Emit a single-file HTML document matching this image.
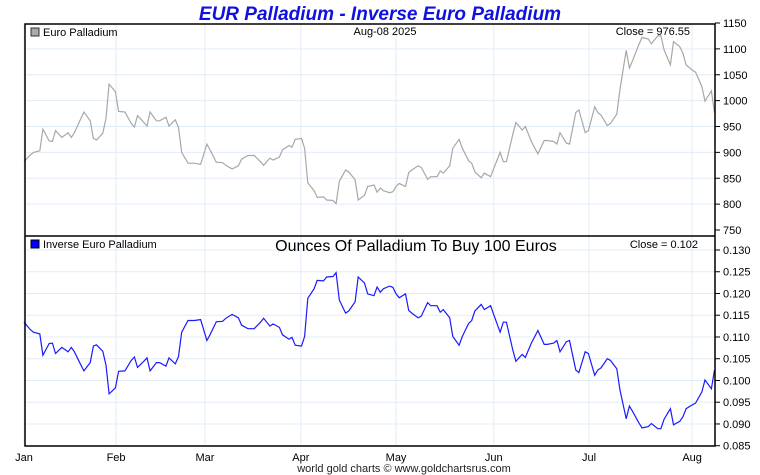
<!DOCTYPE html>
<html><head><meta charset="utf-8"><style>
body{margin:0;background:#fff;width:760px;height:475px;overflow:hidden}
svg{display:block;font-family:"Liberation Sans",sans-serif}
</style></head><body>
<svg id="c" width="760" height="475">
<text x="380" y="20" text-anchor="middle" font-size="19" font-weight="bold" font-style="italic" fill="#1010e0">EUR Palladium - Inverse Euro Palladium</text>
<g id="grid"></g>
<g id="marks"></g>
<rect x="25" y="24" width="690" height="422" fill="none" stroke="#000" stroke-width="1.5"/>
<line x1="25" y1="236" x2="715" y2="236" stroke="#000" stroke-width="1.5"/>
<rect x="31" y="28" width="8" height="8" fill="#aaa" stroke="#333" stroke-width="1"/>
<text x="43" y="36" font-size="11">Euro Palladium</text>
<text x="385" y="35" font-size="11" text-anchor="middle">Aug-08  2025</text>
<text x="690" y="35" font-size="11" text-anchor="end">Close = 976.55</text>
<rect x="31" y="240" width="8" height="8" fill="#0000ff" stroke="#000" stroke-width="1"/>
<text x="43" y="248" font-size="11">Inverse Euro Palladium</text>
<text x="416" y="251" font-size="16" text-anchor="middle">Ounces Of Palladium To Buy 100 Euros</text>
<text x="698" y="248" font-size="11" text-anchor="end">Close = 0.102</text>
<text x="404" y="472" font-size="11" text-anchor="middle" fill="#222">world gold charts © www.goldchartsrus.com</text>
</svg>
<script>
const days=[0,2,3,5,6,8,9,10,12,14,15,16,18,19,21,22,23,25,26,27,29,30,32,34,35,36,38,39,40,42,43,45,46,48,49,50,52,54,56,58,59,61,63,64,66,68,69,71,73,75,76,78,79,81,82,84,85,86,88,89,90,92,93,95,96,98,99,100,102,103,105,106,108,109,111,112,113,114,116,117,118,119,121,122,123,125,126,128,129,131,132,133,135,136,138,139,141,142,143,145,146,148,149,151,152,153,155,156,158,159,161,162,163,165,166,168,169,170,172,173,175,176,178,179,181,182,183,185,186,188,189,191,192,193,195,196,198,199,201,202,203,205,206,208,209,210,212,213,215,216,218,219];
const prices=[882,895,900,903,945,922,921,942,929,938,929,938,965,978,961,927,924,937,966,1032,1017,979,978,956,949,971,958,951,978,961,961,968,951,963,948,900,879,879,877,916,905,881,880,875,868,874,887,894,894,882,875,889,885,891,905,913,910,925,927,908,841,826,813,814,808,807,801,844,866,862,847,808,817,834,837,823,831,826,822,824,834,840,834,861,866,874,871,848,853,853,864,860,874,908,925,908,884,879,862,851,860,853,869,900,882,882,934,958,943,950,920,908,897,923,923,921,916,938,918,916,977,982,938,942,988,977,972,952,956,974,1021,1097,1063,1077,1108,1122,1119,1110,1125,1125,1098,1069,1114,1104,1091,1069,1059,1055,1027,999,1019,976.55];
const inverse=[.1134,.1117,.1111,.1107,.1058,.1085,.1086,.1062,.1076,.1066,.1076,.1066,.1036,.1022,.1041,.1079,.1082,.1067,.1035,.0969,.0983,.1021,.1022,.1046,.1054,.1030,.1044,.1052,.1022,.1041,.1041,.1033,.1052,.1038,.1055,.1111,.1138,.1138,.1140,.1092,.1105,.1135,.1136,.1143,.1152,.1144,.1127,.1119,.1119,.1134,.1143,.1125,.1130,.1122,.1105,.1095,.1099,.1081,.1079,.1101,.1189,.1211,.1230,.1229,.1238,.1239,.1248,.1185,.1155,.1160,.1181,.1238,.1224,.1199,.1195,.1215,.1203,.1211,.1217,.1214,.1199,.1190,.1199,.1161,.1155,.1144,.1148,.1179,.1172,.1172,.1157,.1163,.1144,.1101,.1081,.1101,.1131,.1138,.1160,.1175,.1163,.1172,.1151,.1111,.1134,.1134,.1071,.1044,.1060,.1053,.1087,.1101,.1115,.1083,.1083,.1086,.1092,.1066,.1089,.1092,.1024,.1018,.1066,.1062,.1012,.1024,.1029,.1050,.1046,.1027,.0979,.0912,.0941,.0929,.0903,.0891,.0894,.0901,.0889,.0889,.0911,.0935,.0898,.0906,.0917,.0935,.0944,.0948,.0974,.1001,.0981,.1024];
const monthLabels=["Jan","Feb","Mar","Apr","May","Jun","Jul","Aug"];
const monthDays=[0,29.2,57.4,87.8,118,149,179.2,211.9];
const topTicks=[750,800,850,900,950,1000,1050,1100,1150];
const botTicks=[0.085,0.090,0.095,0.100,0.105,0.110,0.115,0.120,0.125,0.130];

const NS="http://www.w3.org/2000/svg";
const X=d=>24+d*3.153;
const YT=v=>23+(1150-v)*(207/400);
const YB=v=>250+(0.130-v)*(195.7/0.045);
function mk(t,a,p){const e=document.createElementNS(NS,t);for(const k in a)e.setAttribute(k,a[k]);p.appendChild(e);return e;}
const grid=document.getElementById('grid'),marks=document.getElementById('marks');
monthDays.forEach((d,i)=>{
  const l=mk('line',{x1:X(d),x2:X(d),y1:24,y2:446,stroke:'#e2ecf6','stroke-width':1},grid);
  
  
  const t=mk('text',{x:X(d),y:461,'font-size':11,'text-anchor':'middle'},grid);
  t.textContent=monthLabels[i];
  
  
});
topTicks.forEach(v=>{
  const y=YT(v);
  if(v>750&&v<1150){const l=mk('line',{x1:25,x2:715,y1:y,y2:y,stroke:'#e2ecf6','stroke-width':1},grid);
  
  }
  const k=mk('line',{x1:715,x2:720,y1:y,y2:y,stroke:'#000'},grid);
  
  
  const t=mk('text',{x:723,y:y+4,'font-size':11},grid);
  t.textContent=v;
  
  
});
botTicks.forEach(v=>{
  const y=YB(v);
  if(v>0.086){const l=mk('line',{x1:25,x2:715,y1:y,y2:y,stroke:'#e2ecf6','stroke-width':1},grid);
  
  }
  const k=mk('line',{x1:715,x2:720,y1:y,y2:y,stroke:'#000'},grid);
  
  
  const t=mk('text',{x:723,y:y+4,'font-size':11},grid);
  t.textContent=v.toFixed(3);
  
  
});
const p1=mk('polyline',{points:days.map((d,i)=>X(d).toFixed(1)+','+YT(prices[i]).toFixed(1)).join(' '),fill:'none',stroke:'#a8a8a8','stroke-width':1.2},marks);


const p2=mk('polyline',{points:days.map((d,i)=>X(d).toFixed(1)+','+YB(inverse[i]).toFixed(1)).join(' '),fill:'none',stroke:'#1a1aff','stroke-width':1.2},marks);


</script>
</body></html>
